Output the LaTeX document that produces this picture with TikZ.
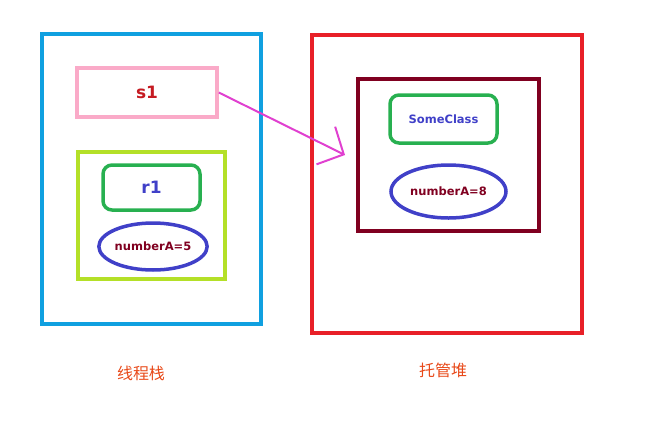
\documentclass[tikz,border=0pt]{standalone}
\usepackage{fontspec}
\setsansfont{DejaVu Sans}
\newfontfamily\cjk{Noto Sans CJK SC}
\usetikzlibrary{arrows.meta, shapes.geometric}
\definecolor{stackblue}{RGB}{16, 160, 224}
\definecolor{heapred}{RGB}{232, 32, 40}
\definecolor{refpink}{RGB}{250, 170, 200}
\definecolor{objlime}{RGB}{180, 224, 40}
\definecolor{objgreen}{RGB}{40, 176, 80}
\definecolor{fieldblue}{RGB}{64, 64, 200}
\definecolor{darkwine}{RGB}{128, 0, 32}
\definecolor{labelorange}{RGB}{232, 72, 24}
\definecolor{arrowmagenta}{RGB}{224, 64, 208}

\begin{document}
\begin{tikzpicture}[
      x=1pt, y=-1pt,
      box/.style={
          draw, line width=3.5pt, inner sep=0pt
      },
      field/.style={
          draw=fieldblue, line width=3.5pt, ellipse, inner sep=0pt,
          text=darkwine, font=\sffamily\bfseries\fontsize{11.5}{13}\selectfont
      },
      title/.style={
          text=labelorange, font=\cjk\fontsize{16}{18}\selectfont
      },
      pointer/.style={
          draw=arrowmagenta, line width=2pt,
          -{Straight Barb[length=20pt, width=42pt, line width=2pt]}
      }
  ]
      \useasboundingbox (0,0) rectangle (649,445);

      % Pile du thread
      \node[box, draw=stackblue, line width=4pt, minimum width=219pt, minimum height=290pt] (stack) at (151.5, 179) {};
      \node[box, draw=refpink, minimum width=140pt, minimum height=49pt,
            text=heapred!85!black, font=\sffamily\bfseries\fontsize{17}{19}\selectfont] (s1) at (147, 92.5) {s1};
      \node[box, draw=objlime, minimum width=147pt, minimum height=127pt] (obj) at (151.5, 215.5) {};
      \node[box, draw=objgreen, rounded corners=9pt, minimum width=97pt, minimum height=45pt,
            text=fieldblue, font=\sffamily\bfseries\fontsize{17}{19}\selectfont] (r1) at (151.5, 187.5) {r1};
      \node[field, minimum width=106pt, minimum height=47pt] (numA) at (153, 246.5) {numberA=5};

      % Tas managé
      \node[box, draw=heapred, line width=4pt, minimum width=270pt, minimum height=298pt] (heap) at (447, 184) {};
      \node[box, draw=darkwine, minimum width=181pt, minimum height=152pt] (inst) at (448.5, 155) {};
      \node[box, draw=objgreen, rounded corners=9pt, minimum width=107pt, minimum height=48pt,
            text=fieldblue, font=\sffamily\bfseries\fontsize{11.5}{13}\selectfont] (cls) at (443.5, 119) {SomeClass};
      \node[field, minimum width=115pt, minimum height=53pt] (numB) at (448.5, 191.5) {numberA=8};

      % Titres
      \node[title] (lstack) at (141, 373) {线程栈};
      \node[title] (lheap) at (443, 370) {托管堆};

      % Référence
      \coordinate (tip) at (345, 155);
      \draw[pointer] (s1.east) -- (tip);
  \end{tikzpicture}
\end{document}
